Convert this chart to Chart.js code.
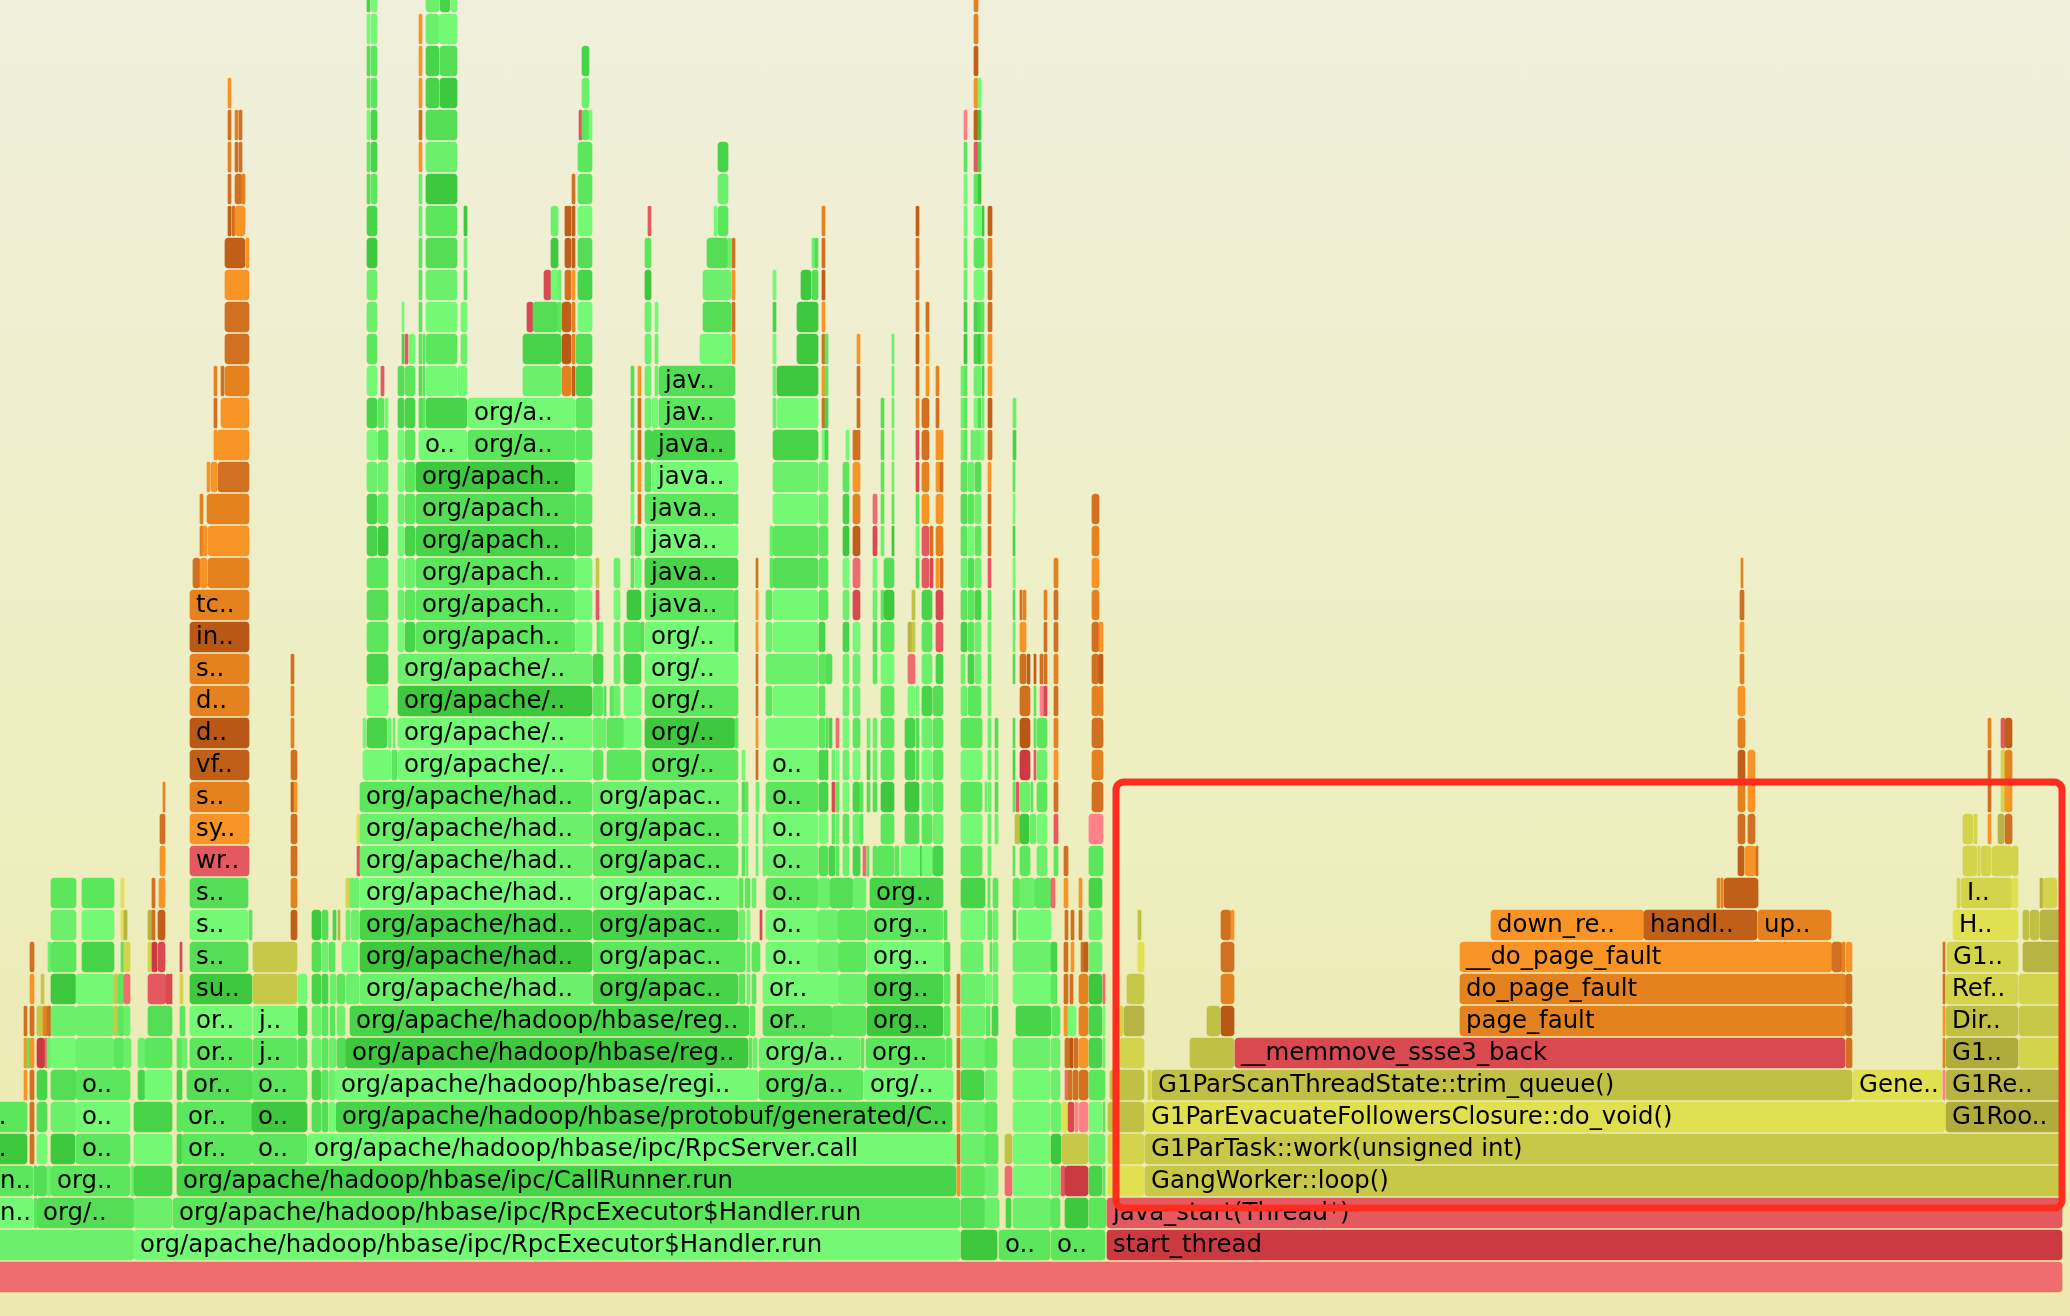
<!DOCTYPE html>
<html><head><meta charset="utf-8">
<style>html,body{margin:0;padding:0;width:2070px;height:1316px;overflow:hidden;background:linear-gradient(#f0efdc,#eeeec0 60%,#ebe9ae)}canvas{display:block}</style>
<script src="https://cdn.jsdelivr.net/npm/chart.js@4"></script>
</head><body><canvas id="c" width="2070" height="1316"></canvas>
<script>
const stack00=[[-10,2062,'r4']];
const stack01=[[-10,134,'g2'],[134,960,'g1','org/apache/hadoop/hbase/ipc/RpcExecutor$Handler.run'],[961,997,'g6'],[999,1050,'g3','o..'],[1051,1105,'g3','o..'],[1107,2062,'r1','start_thread']];
const stack02=[[-6,33,'g1','n..'],[34,37,'g3'],[37,134,'g4','org/..'],[134,172,'g2'],[173,960,'g3','org/apache/hadoop/hbase/ipc/RpcExecutor$Handler.run'],[961,985,'g4'],[985,999,'g2'],[1006,1011,'g5'],[1013,1051,'g2'],[1051,1060,'g3'],[1065,1088,'g6'],[1089,1106,'g3'],[1107,2062,'r3','java_start(Thread*)']];
const stack03=[[-6,33,'g3','n..'],[34,37,'g4'],[37,47,'g4'],[47,51,'g2'],[51,130,'g3','org..'],[131,134,'g2'],[134,172,'g5'],[177,956,'g5','org/apache/hadoop/hbase/ipc/CallRunner.run'],[957,960,'o1'],[961,985,'g3'],[985,998,'g2'],[1005,1012,'r4'],[1013,1050,'g1'],[1051,1060,'g2'],[1061,1065,'r3'],[1065,1088,'r1'],[1089,1102,'g5'],[1103,1105,'g3'],[1108,1144,'y1'],[1145,2062,'y3','GangWorker::loop()']];
const stack04=[[-15,27,'g6','..'],[30,34,'o3'],[37,47,'g1'],[51,75,'g6'],[76,130,'g3','o..'],[134,172,'g1'],[177,182,'g5'],[182,252,'g3','or..'],[252,307,'g3','o..'],[308,956,'g1','org/apache/hadoop/hbase/ipc/RpcServer.call'],[957,960,'o3'],[961,985,'g2'],[985,998,'g3'],[1005,1012,'y4'],[1013,1050,'g1'],[1051,1061,'g6'],[1062,1088,'y3'],[1089,1105,'g2'],[1108,1144,'y2'],[1145,2062,'y3','G1ParTask::work(unsigned int)']];
const stack05=[[-15,27,'g3','..'],[30,34,'o3'],[37,47,'g4'],[51,76,'g2'],[76,130,'g1','o..'],[134,172,'g5'],[177,182,'g3'],[182,252,'g3','or..'],[252,307,'g6','o..'],[312,321,'g4'],[322,328,'g4'],[329,335,'g1'],[336,952,'g5','org/apache/hadoop/hbase/protobuf/generated/C..'],[957,960,'o1'],[961,985,'g2'],[985,997,'g3'],[1013,1050,'g1'],[1051,1061,'g2'],[1062,1067,'y1'],[1068,1074,'r2'],[1075,1078,'r5'],[1079,1088,'r5'],[1089,1102,'g1'],[1103,1105,'g3'],[1108,1144,'y4'],[1145,1945,'y1','G1ParEvacuateFollowersClosure::do_void()'],[1946,2062,'y6','G1Roo..']];
const stack06=[[24,27,'o1'],[30,34,'o3'],[37,47,'g5'],[51,76,'g4'],[76,130,'g3','o..'],[138,145,'g5'],[145,172,'g1'],[177,182,'g5'],[187,252,'g4','or..'],[252,307,'g3','o..'],[312,321,'g5'],[322,328,'g3'],[329,335,'g2'],[335,758,'g1','org/apache/hadoop/hbase/regi..'],[759,863,'g3','org/a..'],[864,953,'g1','org/..'],[957,960,'o3'],[961,984,'g5'],[985,997,'g2'],[1013,1050,'g1'],[1051,1060,'g2'],[1065,1068,'r4'],[1068,1072,'o3'],[1073,1078,'o3'],[1079,1088,'o3'],[1089,1105,'g3'],[1110,1144,'y4'],[1148,1151,'y2'],[1152,1852,'y4','G1ParScanThreadState::trim_queue()'],[1853,1942,'y1','Gene..'],[1943,1945,'r5'],[1946,2062,'y5','G1Re..']];
const stack07=[[24,27,'o1'],[27,30,'g3'],[30,34,'o1'],[37,45,'r1'],[45,47,'r4'],[47,51,'g2'],[51,76,'g1'],[76,114,'g2'],[114,124,'g3'],[124,131,'g2'],[138,145,'g2'],[145,172,'g3'],[177,182,'g3'],[182,187,'g2'],[190,252,'g3','or..'],[253,297,'g3','j..'],[298,307,'g4'],[312,321,'g2'],[322,328,'g3'],[329,336,'g2'],[337,346,'g4'],[346,748,'g6','org/apache/hadoop/hbase/reg..'],[749,752,'g3'],[753,757,'g2'],[759,860,'g2','org/a..'],[861,864,'g3'],[866,945,'g3','org..'],[946,952,'g3'],[957,960,'o3'],[961,985,'g2'],[985,997,'g3'],[1013,1050,'g2'],[1051,1060,'g2'],[1065,1070,'o3'],[1070,1073,'o5'],[1074,1078,'o3'],[1079,1088,'o1'],[1089,1102,'g5'],[1103,1105,'g2'],[1120,1144,'y2'],[1190,1234,'y4'],[1235,1845,'r2','__memmove_ssse3_back'],[1846,1852,'o3'],[1943,1945,'o2'],[1946,2018,'y6','G1..'],[2019,2062,'y2']];
const stack08=[[24,27,'o3'],[30,34,'o3'],[37,43,'y3'],[43,47,'o2'],[47,51,'o3'],[51,76,'g2'],[76,114,'g2'],[114,118,'y3'],[118,124,'g3'],[124,130,'g2'],[148,172,'g4'],[180,185,'g3'],[190,252,'g1','or..'],[253,297,'g1','j..'],[298,307,'g5'],[312,321,'g2'],[322,328,'g3'],[330,335,'g3'],[337,345,'g2'],[350,749,'g5','org/apache/hadoop/hbase/reg..'],[750,755,'g3'],[763,832,'g4','or..'],[832,866,'g3'],[867,943,'g6','org..'],[944,950,'g3'],[957,960,'o1'],[961,985,'g2'],[986,990,'g3'],[992,998,'g5'],[1016,1051,'g5'],[1052,1060,'g3'],[1064,1068,'o1'],[1068,1076,'g1'],[1079,1088,'o2'],[1089,1102,'g5'],[1103,1105,'g1'],[1120,1123,'y2'],[1124,1144,'y5'],[1207,1220,'y4'],[1221,1234,'o5'],[1460,1846,'o2','page_fault'],[1846,1852,'o3'],[1943,1945,'o1'],[1946,2018,'y4','Dir..'],[2019,2062,'y3']];
const stack09=[[30,34,'o1'],[41,44,'y3'],[51,76,'g6'],[76,114,'g1'],[114,118,'y3'],[118,124,'g3'],[124,130,'r4'],[148,166,'r3'],[166,170,'r2'],[170,172,'r2'],[180,183,'y2'],[190,252,'g6','su..'],[253,297,'y3'],[298,307,'g1'],[312,321,'g5'],[322,328,'g5'],[330,336,'g2'],[337,345,'g3'],[346,359,'g2'],[360,592,'g2','org/apache/had..'],[593,738,'g5','org/apac..'],[739,745,'g3'],[747,750,'g2'],[752,756,'g3'],[763,839,'g1','or..'],[839,866,'g2'],[867,943,'g5','org..'],[944,950,'g3'],[957,960,'o3'],[961,985,'g2'],[986,992,'g1'],[993,998,'g2'],[1013,1051,'g1'],[1051,1057,'g3'],[1064,1068,'o3'],[1070,1073,'o3'],[1079,1088,'o2'],[1089,1102,'g6'],[1103,1105,'r4'],[1127,1144,'y3'],[1221,1234,'o2'],[1460,1846,'o2','do_page_fault'],[1846,1852,'o3'],[1943,1945,'o3'],[1946,2018,'y2','Ref..'],[2019,2062,'y2']];
const stack10=[[30,34,'o3'],[48,51,'g2'],[51,76,'g3'],[82,114,'g5'],[121,124,'g3'],[124,130,'y2'],[148,152,'y2'],[152,157,'r1'],[158,165,'r2'],[180,182,'r2'],[190,248,'g4','s..'],[253,297,'y3'],[312,321,'g4'],[322,328,'g2'],[329,335,'g3'],[342,358,'g1'],[360,592,'g6','org/apache/had..'],[593,745,'g3','org/apac..'],[747,750,'g2'],[752,760,'g3'],[766,818,'g1','o..'],[818,839,'g2'],[839,866,'g3'],[867,943,'g1','org..'],[944,950,'g4'],[961,983,'g2'],[990,992,'g3'],[993,998,'g2'],[1013,1051,'g2'],[1051,1057,'g5'],[1064,1068,'o3'],[1071,1074,'o1'],[1081,1084,'o3'],[1084,1088,'o4'],[1089,1102,'g2'],[1138,1144,'y1'],[1221,1234,'o3'],[1460,1832,'o1','__do_page_fault'],[1832,1842,'o3'],[1842,1845,'o2'],[1846,1852,'o1'],[1943,1945,'o3'],[1947,2018,'y2','G1..'],[2023,2062,'y5']];
const stack11=[[51,76,'g2'],[82,114,'g1'],[121,124,'y1'],[124,127,'y5'],[148,152,'y5'],[152,155,'o3'],[158,165,'o4'],[190,248,'g1','s..'],[249,252,'g3'],[291,297,'o4'],[312,321,'g6'],[322,328,'g4'],[333,336,'g5'],[338,340,'y5'],[346,350,'g2'],[351,359,'g2'],[360,592,'g5','org/apache/had..'],[593,738,'g5','org/apac..'],[739,745,'g2'],[747,750,'g1'],[760,762,'r2'],[766,818,'g1','o..'],[818,838,'g2'],[838,866,'g3'],[867,943,'g3','org..'],[944,947,'g4'],[961,985,'g1'],[988,992,'g3'],[993,998,'g2'],[1013,1016,'g5'],[1018,1051,'g1'],[1065,1068,'o3'],[1071,1074,'o3'],[1079,1082,'o3'],[1089,1102,'g2'],[1138,1141,'y4'],[1221,1231,'o3'],[1231,1234,'o1'],[1491,1644,'o1','down_re..'],[1644,1757,'o4','handl..'],[1758,1831,'o2','up..'],[1953,2018,'y1','H..'],[2023,2029,'y4'],[2030,2039,'y4'],[2040,2062,'y5']];
const stack12=[[51,76,'g3'],[82,114,'g3'],[121,124,'y1'],[152,155,'o3'],[159,165,'o1'],[190,248,'g4','s..'],[291,297,'o2'],[346,350,'y2'],[350,354,'g2'],[354,359,'g2'],[360,592,'g1','org/apache/had..'],[593,738,'g1','org/apac..'],[739,743,'g3'],[745,750,'g3'],[752,756,'g2'],[766,818,'g3','o..'],[818,830,'g2'],[830,853,'g4'],[853,866,'g2'],[870,943,'g5','org..'],[961,985,'g5'],[988,990,'g3'],[993,998,'g3'],[1013,1020,'g3'],[1020,1035,'g2'],[1035,1051,'g3'],[1051,1055,'r4'],[1064,1068,'o1'],[1079,1082,'o1'],[1089,1102,'g5'],[1717,1720,'o2'],[1721,1723,'o2'],[1724,1758,'o4'],[1957,1960,'y2'],[1961,2012,'y2','I..'],[2012,2018,'y1'],[2040,2043,'y5'],[2043,2057,'y2']];
const stack13=[[160,165,'o1'],[190,249,'r3','wr..'],[291,294,'o3'],[294,297,'o3'],[357,360,'r3'],[360,592,'g2','org/apache/had..'],[593,738,'g3','org/apac..'],[742,745,'g3'],[746,748,'g2'],[756,758,'g2'],[763,766,'g2'],[766,818,'g2','o..'],[819,828,'g4'],[829,835,'g5'],[836,839,'g3'],[843,849,'g2'],[853,860,'g5'],[863,866,'r4'],[867,869,'g3'],[873,877,'g3'],[877,894,'g3'],[895,899,'g3'],[901,919,'g1'],[920,922,'g5'],[922,933,'g1'],[933,943,'g5'],[961,982,'g3'],[988,991,'g2'],[1013,1015,'g3'],[1020,1030,'g3'],[1037,1047,'g2'],[1054,1058,'g3'],[1064,1068,'o3'],[1089,1103,'g3'],[1738,1744,'o4'],[1745,1756,'o1'],[1756,1758,'o3'],[1963,1977,'y2'],[1978,1980,'y2'],[1981,1991,'y2'],[1992,2012,'y2'],[2012,2018,'y2']];
const stack14=[[160,165,'o3'],[190,249,'o1','sy..'],[291,297,'o3'],[357,360,'y1'],[360,592,'g2','org/apache/had..'],[593,738,'g3','org/apac..'],[742,748,'g1'],[756,758,'g2'],[763,766,'g2'],[766,818,'g1','o..'],[819,828,'g1'],[832,835,'g3'],[836,839,'g2'],[843,849,'g3'],[853,860,'g2'],[860,863,'g3'],[881,894,'g3'],[905,919,'g4'],[922,932,'g3'],[933,943,'g2'],[961,982,'g1'],[988,991,'g2'],[995,998,'g2'],[1015,1020,'y4'],[1020,1029,'g6'],[1030,1036,'g2'],[1037,1047,'g1'],[1054,1058,'r3'],[1089,1103,'r5'],[1738,1745,'o3'],[1748,1755,'o3'],[1963,1973,'y2'],[1974,1977,'y2'],[1988,1991,'o1'],[1998,2004,'y5'],[2005,2012,'o3']];
const stack15=[[163,165,'o2'],[190,249,'o2','s..'],[291,294,'o4'],[294,297,'o1'],[360,592,'g3','org/apache/had..'],[593,738,'g2','org/apac..'],[742,745,'g4'],[745,748,'g3'],[756,759,'g2'],[766,818,'g3','o..'],[819,828,'g5'],[832,835,'r2'],[836,839,'g3'],[843,849,'g1'],[853,860,'g5'],[860,863,'g3'],[867,870,'g4'],[873,877,'g4'],[881,894,'g6'],[905,919,'g6'],[922,932,'g2'],[933,943,'g3'],[961,982,'g3'],[985,987,'g2'],[988,991,'g2'],[995,998,'g4'],[1013,1015,'g3'],[1016,1019,'r3'],[1020,1030,'g2'],[1031,1033,'g3'],[1037,1047,'g3'],[1054,1058,'o3'],[1092,1103,'o3'],[1738,1745,'o2'],[1748,1755,'o1'],[1988,1991,'o3'],[2001,2005,'y2'],[2005,2012,'o1']];
const stack16=[[190,249,'o4','vf..'],[291,297,'o3'],[363,391,'g1'],[392,394,'g3'],[394,397,'g3'],[398,592,'g1','org/apache/..'],[593,603,'g3'],[607,641,'g3'],[645,738,'g3','org/..'],[742,745,'g1'],[756,758,'o3'],[766,818,'g1','o..'],[819,825,'g5'],[825,828,'g5'],[832,835,'g2'],[836,839,'g1'],[843,849,'g2'],[853,860,'g1'],[867,870,'g5'],[873,877,'g2'],[881,894,'g3'],[905,915,'g5'],[916,919,'g4'],[922,932,'g1'],[933,943,'g3'],[961,982,'g1'],[988,991,'g2'],[995,998,'g2'],[1013,1015,'g5'],[1020,1030,'r1'],[1034,1036,'r3'],[1037,1047,'g2'],[1054,1058,'o1'],[1092,1103,'o2'],[1738,1745,'o4'],[1748,1755,'o1'],[1988,1991,'o3'],[2001,2005,'y2'],[2005,2012,'o2']];
const stack17=[[190,249,'o5','d..'],[291,294,'o2'],[363,366,'g1'],[367,387,'g5'],[388,391,'g2'],[393,395,'g2'],[398,592,'g1','org/apache/..'],[593,603,'g2'],[603,606,'g2'],[607,624,'g3'],[624,641,'g1'],[645,735,'g6','org/..'],[735,738,'g3'],[756,758,'o1'],[766,818,'g1'],[819,825,'g3'],[826,828,'g4'],[829,832,'g5'],[836,839,'r4'],[843,849,'g1'],[853,860,'g3'],[867,870,'g2'],[873,877,'g2'],[881,894,'g3'],[905,915,'g5'],[916,919,'g4'],[922,932,'g2'],[933,943,'g3'],[961,982,'g3'],[988,991,'g2'],[995,998,'g4'],[1013,1015,'g4'],[1020,1030,'o5'],[1034,1036,'g3'],[1037,1047,'g3'],[1054,1058,'o2'],[1092,1103,'o3'],[1738,1745,'o2'],[1988,1991,'o2'],[2001,2005,'r3'],[2005,2012,'o4']];
const stack18=[[190,249,'o2','d..'],[291,294,'o2'],[367,388,'g1'],[398,592,'g6','org/apache/..'],[593,603,'g3'],[604,606,'g4'],[610,614,'g3'],[614,620,'g2'],[624,641,'g1'],[645,738,'g3','org/..'],[756,758,'o3'],[766,772,'g3'],[773,818,'g1'],[819,825,'g3'],[843,849,'g2'],[853,860,'g2'],[881,894,'g3'],[908,915,'g1'],[916,919,'g1'],[922,932,'g5'],[933,943,'g4'],[961,967,'g2'],[968,981,'g3'],[988,991,'g2'],[1020,1030,'o3'],[1034,1036,'g3'],[1040,1044,'r5'],[1044,1047,'r2'],[1054,1058,'o3'],[1092,1099,'o2'],[1099,1103,'o2'],[1738,1745,'o1']];
const stack19=[[190,249,'o2','s..'],[291,294,'o3'],[367,388,'g5'],[398,592,'g2','org/apache/..'],[593,603,'g5'],[614,620,'g2'],[624,641,'g5'],[645,738,'g1','org/..'],[756,758,'o3'],[766,818,'g2'],[819,826,'g3'],[826,832,'g4'],[843,849,'g2'],[853,860,'g2'],[873,877,'g3'],[881,894,'g1'],[908,915,'r4'],[922,932,'g2'],[936,943,'g5'],[961,965,'g2'],[968,974,'g5'],[975,981,'g2'],[988,991,'g3'],[1013,1015,'g4'],[1020,1026,'o3'],[1027,1030,'o4'],[1034,1036,'o4'],[1040,1043,'o3'],[1044,1047,'o3'],[1054,1058,'o2'],[1092,1099,'o3'],[1099,1103,'o4'],[1740,1744,'o2']];
const stack20=[[190,249,'o5','in..'],[367,388,'g3'],[398,404,'g1'],[405,415,'g5'],[416,575,'g3','org/apach..'],[576,592,'g1'],[597,600,'g3'],[600,603,'g2'],[614,620,'g2'],[624,641,'g3'],[641,644,'g4'],[645,735,'g1','org/..'],[735,738,'g5'],[756,758,'o1'],[766,772,'g2'],[773,818,'g1'],[819,825,'g5'],[843,849,'g5'],[853,860,'g1'],[873,877,'g4'],[881,894,'g3'],[908,912,'y5'],[912,915,'y3'],[922,932,'g3'],[936,943,'r3'],[961,967,'g5'],[968,974,'g3'],[975,981,'g2'],[988,991,'g2'],[1013,1015,'g2'],[1020,1026,'o1'],[1044,1047,'o3'],[1054,1058,'o3'],[1092,1099,'o3'],[1099,1103,'o1'],[1740,1744,'o1']];
const stack21=[[190,249,'o2','tc..'],[367,388,'g4'],[398,404,'g2'],[405,415,'g3'],[416,575,'g3','org/apach..'],[576,592,'g1'],[596,599,'r3'],[614,620,'g1'],[627,641,'g6'],[645,735,'g3','java..'],[735,738,'g4'],[756,758,'o1'],[766,772,'g3'],[773,818,'g1'],[819,828,'g3'],[843,849,'g2'],[853,860,'r2'],[873,877,'g2'],[881,884,'g3'],[884,894,'g6'],[912,915,'y4'],[922,932,'g5'],[936,943,'r2'],[961,967,'g3'],[968,974,'g3'],[975,981,'g5'],[988,991,'g3'],[1013,1015,'g4'],[1020,1022,'o3'],[1023,1026,'o2'],[1044,1047,'o2'],[1054,1058,'o3'],[1092,1099,'o2'],[1740,1744,'o3']];
const stack22=[[193,200,'o3'],[200,207,'o1'],[208,249,'o2'],[367,388,'g3'],[398,404,'g1'],[405,415,'g2'],[416,575,'g3','org/apach..'],[576,592,'g1'],[596,599,'y3'],[614,620,'g2'],[631,634,'g3'],[635,641,'g1'],[645,738,'g5','java..'],[756,758,'o3'],[770,773,'g3'],[773,818,'g4'],[819,828,'g3'],[843,849,'g1'],[853,860,'r4'],[873,877,'g1'],[884,894,'g4'],[916,919,'g4'],[922,929,'r3'],[930,933,'r2'],[936,939,'o1'],[940,943,'o3'],[961,967,'g2'],[968,974,'g4'],[975,981,'g2'],[988,991,'r3'],[1013,1015,'g1'],[1054,1058,'o2'],[1092,1099,'o1'],[1741,1743,'o2']];
const stack23=[[200,203,'o2'],[203,207,'o1'],[208,249,'o1'],[367,377,'g5'],[378,388,'g6'],[398,404,'g1'],[405,415,'g5'],[416,575,'g5','org/apach..'],[576,592,'g4'],[631,634,'g2'],[635,641,'g5'],[645,738,'g1','java..'],[770,773,'g2'],[773,818,'g3'],[819,828,'g3'],[843,849,'g6'],[853,860,'o4'],[873,877,'r2'],[881,884,'g2'],[892,894,'g6'],[916,919,'g1'],[922,929,'r3'],[930,933,'o3'],[936,943,'o2'],[961,967,'g3'],[968,974,'g1'],[975,981,'g3'],[988,991,'o3'],[1013,1015,'g5'],[1092,1099,'o2']];
const stack24=[[200,203,'o2'],[207,249,'o2'],[367,377,'g5'],[378,388,'g3'],[398,404,'g2'],[405,415,'g3'],[416,575,'g4','org/apach..'],[576,592,'g3'],[631,634,'g1'],[638,641,'o3'],[645,735,'g3','java..'],[735,738,'g3'],[773,818,'g1'],[819,828,'g2'],[843,849,'g5'],[853,860,'o2'],[873,877,'r4'],[881,884,'g3'],[892,894,'g3'],[916,919,'g3'],[922,929,'o1'],[936,943,'o1'],[961,967,'g4'],[968,974,'g3'],[975,981,'g2'],[988,991,'o3'],[1013,1015,'g1'],[1092,1099,'o3']];
const stack25=[[207,210,'o1'],[211,217,'o1'],[218,249,'o3'],[367,377,'g2'],[378,388,'g2'],[398,404,'g1'],[405,415,'g3'],[416,575,'g6','org/apach..'],[576,592,'g1'],[631,634,'g4'],[638,641,'o1'],[645,651,'g4'],[652,738,'g1','java..'],[773,818,'g2'],[819,828,'g2'],[843,849,'g3'],[853,860,'o1'],[881,884,'g3'],[892,894,'g2'],[916,919,'r2'],[922,929,'o2'],[936,940,'o1'],[940,943,'o3'],[961,967,'g3'],[968,974,'g2'],[975,981,'g4'],[988,991,'o1'],[1013,1015,'g3']];
const stack26=[[214,217,'o1'],[217,249,'o1'],[367,377,'g1'],[378,388,'g3'],[398,404,'g1'],[405,415,'g3'],[419,467,'g1','o..'],[468,575,'g3','org/a..'],[576,592,'g3'],[631,634,'g3'],[638,641,'o3'],[645,652,'g5'],[652,735,'g5','java..'],[773,818,'g5'],[822,825,'g1'],[825,828,'g5'],[846,849,'g1'],[853,857,'o3'],[857,860,'o3'],[881,884,'g4'],[892,894,'g1'],[916,919,'r2'],[922,929,'o3'],[936,939,'o1'],[939,943,'o1'],[961,964,'g2'],[964,967,'g3'],[971,974,'g2'],[974,981,'g2'],[981,984,'g1'],[988,992,'o3'],[1013,1016,'g5']];
const stack27=[[214,217,'o3'],[221,249,'o1'],[367,377,'g5'],[378,384,'g3'],[385,388,'g1'],[398,404,'g5'],[405,415,'g5'],[419,423,'g4'],[423,425,'g3'],[426,467,'g5'],[468,575,'g1','org/a..'],[576,592,'g3'],[631,634,'g4'],[638,641,'o3'],[645,651,'g2'],[652,658,'g1'],[659,735,'g3','jav..'],[773,776,'g2'],[777,818,'g1'],[822,825,'o3'],[825,828,'g5'],[857,860,'o3'],[881,884,'g4'],[892,894,'g2'],[916,919,'o2'],[922,929,'o3'],[936,939,'o3'],[961,964,'g2'],[964,967,'g3'],[974,978,'g1'],[978,981,'g4'],[982,984,'g2'],[988,992,'o4'],[1013,1016,'g2']];
const stack28=[[214,217,'o2'],[221,224,'o3'],[225,249,'o2'],[367,377,'g1'],[381,384,'r3'],[398,404,'g4'],[405,415,'g3'],[419,422,'g4'],[423,425,'g3'],[426,457,'g1'],[458,467,'g1'],[523,561,'g2'],[562,571,'o2'],[572,575,'o4'],[576,592,'g5'],[631,634,'g4'],[638,641,'o1'],[645,651,'g2'],[655,658,'g2'],[659,735,'g4','jav..'],[773,776,'g2'],[777,818,'g6'],[822,825,'o1'],[825,828,'g3'],[857,860,'o3'],[892,894,'g2'],[916,919,'o3'],[926,929,'o1'],[936,939,'o2'],[961,964,'g2'],[964,967,'g3'],[974,981,'g2'],[982,984,'g5'],[988,992,'o1']];
const stack29=[[225,249,'o3'],[367,377,'g3'],[402,404,'g5'],[405,408,'r3'],[409,415,'g1'],[419,422,'g3'],[423,425,'g3'],[426,457,'g3'],[461,467,'g2'],[523,561,'g5'],[562,571,'o5'],[572,575,'o2'],[576,592,'g4'],[645,651,'g2'],[655,658,'g2'],[700,731,'g1'],[732,735,'o1'],[773,776,'g1'],[797,818,'g6'],[822,825,'o3'],[825,828,'g3'],[857,860,'o1'],[892,894,'g2'],[916,919,'o4'],[926,929,'o1'],[964,967,'g6'],[974,978,'g5'],[978,981,'g6'],[981,984,'g3'],[988,992,'o1']];
const stack30=[[225,249,'o3'],[367,377,'g2'],[402,404,'g1'],[419,422,'g3'],[426,457,'g1'],[461,467,'g1'],[527,533,'r2'],[533,558,'g4'],[558,561,'g3'],[562,571,'o4'],[572,575,'o2'],[578,592,'g1'],[645,651,'g2'],[655,658,'g1'],[703,731,'g4'],[732,735,'o3'],[773,776,'g5'],[797,818,'g6'],[822,825,'o1'],[916,919,'o3'],[926,929,'o3'],[964,967,'g5'],[974,978,'g5'],[978,981,'g4'],[981,984,'g3'],[988,992,'o3']];
const stack31=[[225,249,'o1'],[367,377,'g2'],[419,422,'g3'],[426,457,'g2'],[464,467,'g3'],[544,551,'r2'],[551,558,'g1'],[558,561,'g2'],[565,571,'o3'],[572,575,'o1'],[578,592,'g5'],[645,651,'g6'],[703,731,'g2'],[732,735,'o1'],[773,776,'g1'],[801,811,'g6'],[812,818,'g4'],[822,825,'o4'],[916,919,'o3'],[964,967,'g2'],[974,984,'g1'],[988,992,'o3']];
const stack32=[[225,245,'o4'],[246,249,'o1'],[367,377,'g6'],[419,422,'g3'],[426,457,'g4'],[464,467,'g2'],[551,558,'g6'],[565,571,'o4'],[572,575,'o4'],[578,592,'g4'],[645,651,'g3'],[707,728,'g4'],[728,731,'g2'],[732,735,'o3'],[812,815,'g2'],[815,818,'g4'],[822,825,'o3'],[916,919,'o3'],[964,967,'g2'],[974,984,'g3'],[988,992,'o2']];
const stack33=[[228,231,'o4'],[232,235,'o3'],[235,245,'o1'],[367,377,'g5'],[419,422,'g2'],[426,457,'g3'],[464,467,'g6'],[551,558,'g2'],[565,568,'o4'],[568,571,'o4'],[572,575,'o4'],[578,592,'g1'],[648,651,'r3'],[714,717,'g1'],[718,728,'g3'],[822,825,'o2'],[916,919,'o4'],[964,967,'g1'],[974,981,'g1'],[982,984,'g6'],[988,992,'o4']];
const stack34=[[228,231,'o3'],[235,242,'o3'],[242,245,'o2'],[367,370,'g4'],[371,377,'g3'],[419,422,'g2'],[426,457,'g6'],[572,575,'o3'],[578,592,'g3'],[718,728,'g2'],[964,967,'g1'],[974,978,'g3'],[978,981,'g6']];
const stack35=[[228,231,'o2'],[235,238,'o3'],[239,242,'o3'],[367,370,'g3'],[371,377,'g5'],[419,422,'o1'],[426,457,'g2'],[578,592,'g3'],[718,728,'g5'],[964,967,'g3'],[974,978,'r3'],[978,981,'g5']];
const stack36=[[228,231,'o3'],[235,238,'o2'],[239,242,'o3'],[367,370,'g1'],[371,377,'g5'],[419,422,'o3'],[426,457,'g4'],[579,582,'r3'],[582,589,'g3'],[589,592,'g1'],[964,967,'r5'],[974,978,'o4'],[978,981,'g6']];
const stack37=[[228,231,'o1'],[367,370,'g3'],[371,377,'g3'],[419,422,'o1'],[426,439,'g5'],[440,457,'g6'],[582,589,'g2'],[974,978,'o1'],[978,981,'g1']];
const stack38=[[367,370,'g4'],[371,377,'g3'],[419,422,'o1'],[426,439,'g5'],[440,457,'g4'],[582,589,'g5'],[974,978,'o4']];
const stack39=[[367,370,'g1'],[371,377,'g1'],[419,422,'o1'],[426,439,'g2'],[439,457,'g1'],[974,978,'o2']];
const stack40=[[367,370,'g5'],[371,377,'g1'],[426,439,'g2'],[440,450,'g5'],[451,457,'g1'],[974,978,'o2']];
const stacks=[stack00,stack01,stack02,stack03,stack04,stack05,stack06,stack07,stack08,stack09,stack10,stack11,stack12,stack13,stack14,stack15,stack16,stack17,stack18,stack19,stack20,stack21,stack22,stack23,stack24,stack25,stack26,stack27,stack28,stack29,stack30,stack31,stack32,stack33,stack34,stack35,stack36,stack37,stack38,stack39,stack40];
const highlightSpan=[1116,2062];
const highlightRows=[2.156,15.47];

const tones={g1:'#74f974',g2:'#6cf06c',g3:'#5ce65c',g4:'#55de55',g5:'#48d448',g6:'#3ec83e',
o1:'#f89425',o2:'#e4821f',o3:'#d07020',o4:'#c06018',o5:'#b85814',
r1:'#ca3a40',r2:'#d84a50',r3:'#e4595f',r4:'#ee6b6e',r5:'#ff8088',
y1:'#e0e050',y2:'#d4d44c',y3:'#c8c848',y4:'#c0c044',y5:'#b8b444',y6:'#b0ac3c'};
const points=[];
stacks.forEach((row,depth)=>row.forEach(f=>points.push({x:[f[0],f[1]],y:depth,tone:f[2],label:f[3]})));

const labels={id:'frameLabels',afterDatasetsDraw(ch){
  const g=ch.ctx,xs=ch.scales.x,ys=ch.scales.y;
  g.save();g.font='24.4px "DejaVu Sans"';g.fillStyle='#000';g.textBaseline='middle';g.textAlign='left';
  points.forEach(p=>{if(p.label)g.fillText(p.label,xs.getPixelForValue(p.x[0])+6,ys.getPixelForValue(p.y)+1);});
  g.restore();
}};
const highlight={id:'highlight',afterDraw(ch){
  const g=ch.ctx,xs=ch.scales.x,ys=ch.scales.y;
  const l=xs.getPixelForValue(highlightSpan[0]),r=xs.getPixelForValue(highlightSpan[1]);
  const b=ys.getPixelForValue(highlightRows[0]),t=ys.getPixelForValue(highlightRows[1]);
  g.save();g.strokeStyle='#ff2d1e';g.lineWidth=7;g.beginPath();g.roundRect(l,t,r-l,b-t,8);g.stroke();g.restore();
}};
new Chart(document.getElementById('c'),{
  type:'bar',
  data:{datasets:[{data:points,backgroundColor:c=>tones[c.raw.tone],borderWidth:0,borderRadius:4,borderSkipped:false,barThickness:30,inflateAmount:0.35}]},
  options:{indexAxis:'y',responsive:false,animation:false,devicePixelRatio:1,
    layout:{padding:0},
    plugins:{legend:{display:false},tooltip:{enabled:false}},
    scales:{
      x:{type:'linear',min:0,max:2070,offset:false,display:false},
      y:{type:'linear',min:-1.21875,max:39.90625,offset:false,display:false}
    }},
  plugins:[labels,highlight]
});
</script></body></html>
